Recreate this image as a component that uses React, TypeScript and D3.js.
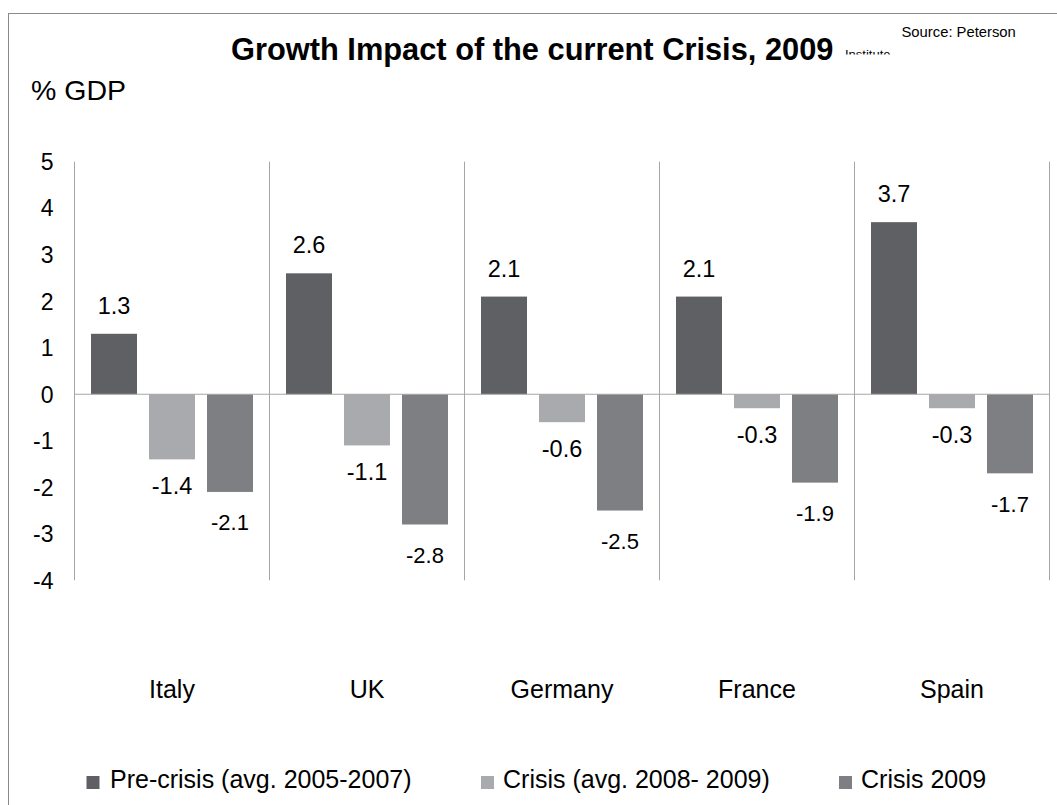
import React from "react";
import * as d3 from "d3";

const categories = ["Italy", "UK", "Germany", "France", "Spain"];
const seriesNames = ["Pre-crisis (avg. 2005-2007)", "Crisis (avg. 2008- 2009)", "Crisis 2009"];
const preCrisis = [1.3, 2.6, 2.1, 2.1, 3.7];
const crisisAvg = [-1.4, -1.1, -0.6, -0.3, -0.3];
const crisis2009 = [-2.1, -2.8, -2.5, -1.9, -1.7];
const yTicks = [5, 4, 3, 2, 1, 0, -1, -2, -3, -4];
const colors = ["#5f6064", "#a8aaad", "#7e7f83"];

const FONT = "'Liberation Sans', Arial, Helvetica, sans-serif";

export default function App() {
  const W = 1057;
  const H = 805;
  const plotL = 74.5;
  const plotR = 1049.5;
  const plotT = 161.7;
  const plotB = 580.3;

  const x0 = d3.scaleBand<string>().domain(categories).range([plotL, plotR]).padding(0);
  const inner = x0.bandwidth();
  const x1 = d3
    .scaleBand<number>()
    .domain([0, 1, 2])
    .range([16.5, inner - 16.5])
    .paddingInner(0.207)
    .paddingOuter(0);
  const y = d3.scaleLinear().domain([-4, 5]).range([plotB, plotT]);

  const series = [preCrisis, crisisAvg, crisis2009];
  const legendX = [[86.5, 110], [481, 503], [839, 861]];

  return (
    <svg
      width={W}
      height={H}
      style={{ position: "absolute", left: 0, top: 0, background: "#fff" }}
      fontFamily={FONT}
    >
      <defs>
        <clipPath id="srcclip">
          <rect x={820} y={40} width={120} height={14.5} />
        </clipPath>
      </defs>
      <rect x={0} y={0} width={W} height={H} fill="#fff" />
      {/* frame */}
      <rect x={8.5} y={13.5} width={1200} height={1000} fill="none" stroke="#8a8a8a" strokeWidth={1} />

      {/* title */}
      <text x={231} y={59.5} fontSize={30.8} fontWeight="bold" fill="#000">
        Growth Impact of the current Crisis, 2009
      </text>
      <text x={901.5} y={37.3} fontSize={14.8} fill="#000">
        Source: Peterson
      </text>
      <g clipPath="url(#srcclip)">
        <text x={845} y={58.5} fontSize={13} fill="#000">
          Institute
        </text>
      </g>

      <text x={31} y={100} fontSize={28.5} fill="#000">
        % GDP
      </text>

      {/* category separators */}
      {[...categories.map((c) => x0(c)!), plotR].map((xv, i) => (
        <line key={"sep" + i} x1={xv} x2={xv} y1={plotT} y2={plotB} stroke="#a6a6a6" strokeWidth={1} />
      ))}

      {/* bars */}
      {categories.map((c, ci) =>
        series.map((vals, si) => {
          const v = vals[ci];
          const bx = x0(c)! + x1(si)!;
          const y0 = y(0);
          const yv = y(v);
          return (
            <rect
              key={c + si}
              x={bx}
              y={Math.min(y0, yv)}
              width={x1.bandwidth()}
              height={Math.abs(yv - y0)}
              fill={colors[si]}
            />
          );
        })
      )}

      {/* zero line */}
      <line x1={plotL} x2={plotR} y1={y(0)} y2={y(0)} stroke="#a6a6a6" strokeWidth={1.2} />

      {/* data labels */}
      {categories.map((c, ci) =>
        series.map((vals, si) => {
          const v = vals[ci];
          const cx = x0(c)! + x1(si)! + x1.bandwidth() / 2;
          let ly: number;
          let fs: number;
          if (v >= 0) {
            ly = y(v) - 20;
            fs = 23.5;
          } else if (si === 1) {
            ly = y(v) + 34.5;
            fs = 23.5;
          } else {
            ly = y(v) + 38.5;
            fs = 22;
          }
          return (
            <text key={"l" + c + si} x={cx} y={ly} fontSize={fs} textAnchor="middle" fill="#000">
              {v.toFixed(1)}
            </text>
          );
        })
      )}

      {/* y ticks */}
      {yTicks.map((t) => (
        <text key={"t" + t} x={53.5} y={y(t)} dy="0.36em" fontSize={23} textAnchor="end" fill="#000">
          {t}
        </text>
      ))}

      {/* category labels */}
      {categories.map((c) => (
        <text key={"c" + c} x={x0(c)! + inner / 2} y={698.3} fontSize={25} textAnchor="middle" fill="#000">
          {c}
        </text>
      ))}

      {/* legend */}
      {seriesNames.map((n, i) => (
        <g key={"lg" + i}>
          <rect x={legendX[i][0]} y={776} width={13} height={13} fill={colors[i]} />
          <text x={legendX[i][1]} y={788.3} fontSize={25} fill="#000">
            {n}
          </text>
        </g>
      ))}
    </svg>
  );
}
